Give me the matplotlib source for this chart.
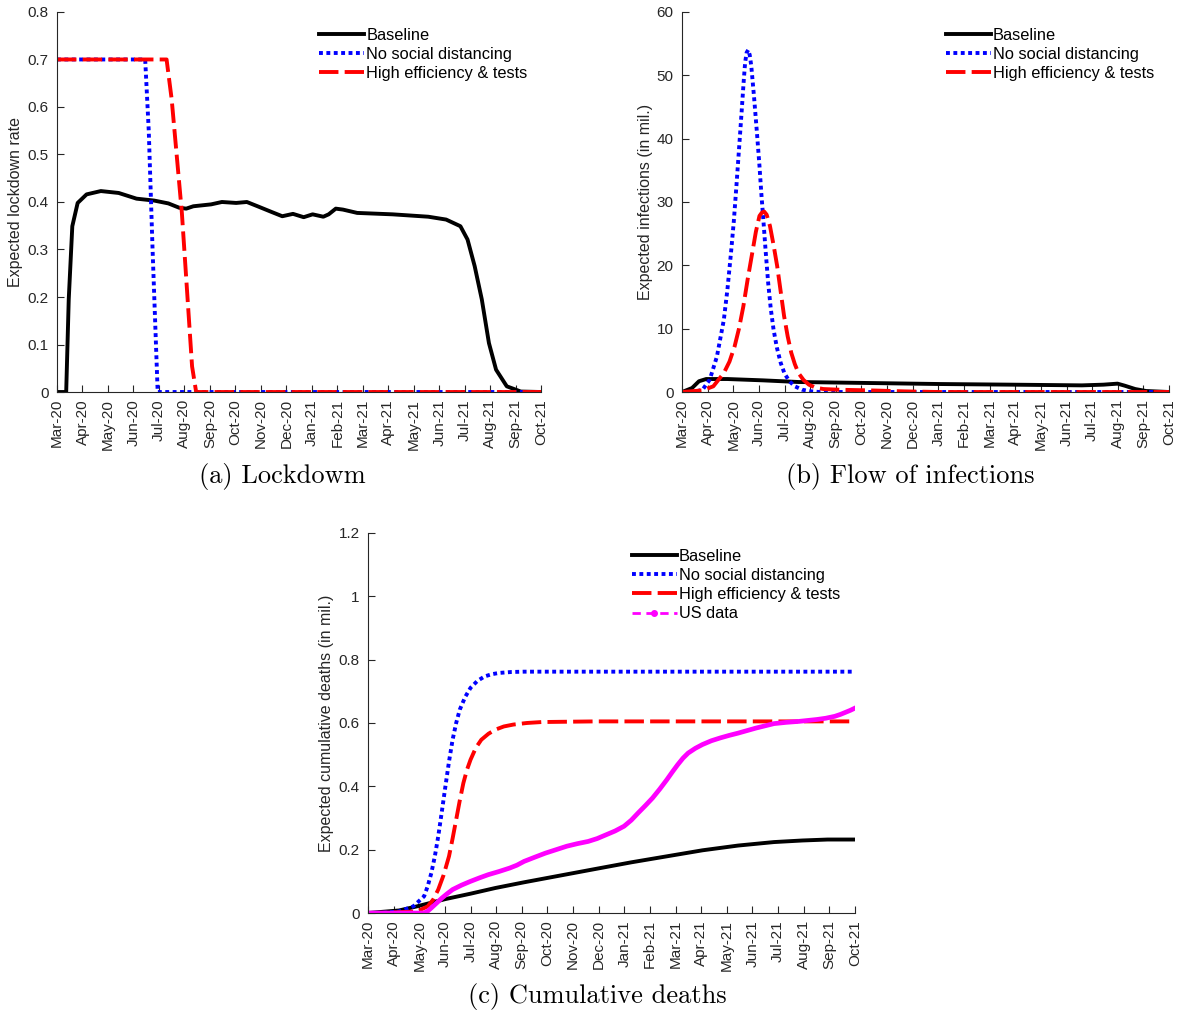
import matplotlib
matplotlib.use('Agg')
import matplotlib.pyplot as plt
from matplotlib.lines import Line2D
from matplotlib.ticker import FuncFormatter

plt.rcParams['font.family'] = ['Liberation Sans', 'DejaVu Sans']

months = ['Mar-20', 'Apr-20', 'May-20', 'Jun-20', 'Jul-20', 'Aug-20', 'Sep-20', 'Oct-20',
          'Nov-20', 'Dec-20', 'Jan-21', 'Feb-21', 'Mar-21', 'Apr-21', 'May-21', 'Jun-21',
          'Jul-21', 'Aug-21', 'Sep-21', 'Oct-21']

# (a) lockdown rate; x is months since Mar-20
lock_base_t = [0, 0.36, 0.46, 0.60, 0.81, 1.16, 1.72, 2.42, 3.12, 3.81, 4.37, 4.79, 5.07, 5.35,
               6.05, 6.47, 7.03, 7.45, 7.87, 8.42, 8.84, 9.26, 9.68, 10.03, 10.45, 10.66, 10.94,
               11.22, 11.78, 13.17, 14.57, 15.27, 15.83, 16.11, 16.39, 16.67, 16.95, 17.23,
               17.65, 18.20, 19]
lock_base = [0, 0, 0.195, 0.349, 0.398, 0.416, 0.423, 0.419, 0.407, 0.403, 0.397, 0.388, 0.386,
             0.391, 0.395, 0.400, 0.398, 0.400, 0.391, 0.379, 0.370, 0.375, 0.368, 0.374, 0.369,
             0.374, 0.386, 0.384, 0.377, 0.374, 0.369, 0.363, 0.349, 0.321, 0.265, 0.195, 0.103,
             0.047, 0.012, 0.001, 0]
lock_nosd_t = [0, 3.46, 3.60, 3.75, 3.95, 19]
lock_nosd = [0.7, 0.7, 0.55, 0.30, 0, 0]
lock_high_t = [0, 4.30, 4.50, 4.90, 5.30, 5.46, 19]
lock_high = [0.7, 0.7, 0.616, 0.377, 0.054, 0, 0]

# (b) flow of infections (mil.)
inf_base_t = [0, 0.39, 0.66, 0.94, 1.77, 3.16, 4.54, 7.31, 10.07, 12.84, 15.6, 16.44, 16.99,
              17.27, 17.68, 18.1, 19]
inf_base = [0, 0.63, 1.7, 2.05, 2.05, 1.84, 1.58, 1.42, 1.26, 1.16, 1.05, 1.16, 1.32, 1.0, 0.47,
            0.16, 0]
inf_nosd_t = [0, 0.5, 0.80, 1.08, 1.36, 1.63, 1.77, 1.91, 2.02, 2.12, 2.23, 2.33, 2.40, 2.46,
              2.52, 2.58, 2.64, 2.70, 2.81, 2.92, 3.02, 3.09, 3.16, 3.26, 3.36, 3.46, 3.57,
              3.70, 3.85, 4.0, 4.19, 4.40, 4.68, 5.0, 5.37, 19]
inf_nosd = [0, 0.05, 0.37, 1.95, 5.6, 11.4, 16.2, 22.0, 27.0, 32.5, 38.8, 44.6, 48.8, 52.0,
            53.6, 54.0, 53.2, 51.5, 46.5, 41.0, 35.7, 31.5, 27.8, 22.3, 17.2, 13.2, 9.85, 7.0,
            4.58, 2.9, 1.69, 0.9, 0.37, 0.12, 0, 0]
inf_high_t = [0, 0.80, 1.22, 1.63, 1.85, 2.05, 2.22, 2.39, 2.56, 2.74, 2.88, 3.02, 3.11, 3.20,
              3.30, 3.43, 3.57, 3.71, 3.85, 3.98, 4.12, 4.26, 4.40, 4.54, 4.74, 4.95, 5.20,
              5.51, 6.2, 7.3, 8.69, 10, 19]
inf_high = [0, 0.26, 0.9, 3.0, 4.8, 7.2, 10.0, 13.5, 17.8, 22.0, 25.3, 27.8, 28.3, 28.5, 28.0,
            26.2, 23.2, 19.9, 15.8, 12.0, 8.8, 6.2, 4.4, 3.0, 1.9, 1.16, 0.7, 0.47, 0.35, 0.26,
            0.1, 0, 0]

# (c) cumulative deaths (mil.)
dth_base_t = [0, 1.21, 1.91, 3.02, 4.0, 4.97, 6.09, 7.48, 8.87, 10.27, 11.66, 13.05, 14.44,
              15.84, 16.95, 17.93, 19]
dth_base = [0, 0.008, 0.021, 0.044, 0.061, 0.079, 0.097, 0.118, 0.139, 0.160, 0.179, 0.198,
            0.213, 0.224, 0.229, 0.232, 0.232]
dth_nosd_t = [0, 0.52, 1.21, 1.77, 2.19, 2.33, 2.47, 2.61, 2.74, 2.88, 3.02, 3.16, 3.30, 3.44,
              3.58, 3.79, 4.0, 4.27, 4.55, 4.83, 5.11, 5.6, 6.09, 19]
dth_nosd = [0, 0, 0.005, 0.021, 0.053, 0.085, 0.126, 0.180, 0.242, 0.320, 0.40, 0.478, 0.547,
            0.600, 0.642, 0.682, 0.711, 0.733, 0.747, 0.754, 0.758, 0.761, 0.762, 0.762]
dth_high_t = [0, 0.5, 1.91, 2.33, 2.54, 2.74, 2.95, 3.16, 3.30, 3.44, 3.58, 3.72, 3.86, 4.0,
              4.21, 4.42, 4.70, 4.97, 5.30, 5.67, 6.2, 6.78, 8.87, 19]
dth_high = [0, 0, 0.005, 0.021, 0.042, 0.074, 0.120, 0.179, 0.235, 0.295, 0.355, 0.41, 0.452,
            0.484, 0.522, 0.547, 0.566, 0.579, 0.589, 0.595, 0.600, 0.603, 0.605, 0.605]
us_t = [0, 2.19, 2.33, 2.47, 2.67, 2.88, 3.09, 3.30, 3.65, 4.0, 4.35, 4.69, 5.11, 5.53, 5.81,
        6.09, 6.50, 6.92, 7.34, 7.76, 8.17, 8.59, 8.94, 9.29, 9.64, 9.99, 10.27, 10.54, 10.82,
        11.10, 11.38, 11.66, 11.87, 12.08, 12.29, 12.49, 12.77, 13.05, 13.40, 13.75, 14.10,
        14.44, 14.79, 15.14, 15.49, 15.84, 16.32, 16.81, 17.16, 17.51, 17.86, 18.21, 18.43,
        18.64, 18.82, 19]
us_deaths = [0, 0, 0.006, 0.016, 0.031, 0.047, 0.061, 0.074, 0.088, 0.100, 0.111, 0.121, 0.131,
             0.142, 0.151, 0.163, 0.176, 0.189, 0.200, 0.211, 0.219, 0.226, 0.235, 0.247, 0.259,
             0.274, 0.293, 0.316, 0.339, 0.363, 0.391, 0.421, 0.445, 0.468, 0.489, 0.505, 0.520,
             0.532, 0.544, 0.553, 0.561, 0.568, 0.576, 0.584, 0.591, 0.598, 0.602, 0.605, 0.608,
             0.611, 0.615, 0.621, 0.627, 0.634, 0.640, 0.647]

labels = ['Baseline', 'No social distancing', 'High efficiency & tests']
gray = '#262626'

fig = plt.figure(figsize=(11.78, 10.14), dpi=100)


def setup(ax, ymax, ystep, ylabel):
    ax.set_xlim(0, 19)
    ax.set_ylim(0, ymax)
    ax.set_xticks(range(20))
    ax.set_xticklabels(months, rotation=90, color=gray)
    n = int(round(ymax / ystep))
    ax.set_yticks([i * ystep for i in range(n + 1)])
    ax.yaxis.set_major_formatter(FuncFormatter(lambda v, p: '%g' % round(v, 6)))
    ax.tick_params(direction='in', length=5, width=0.8, colors=gray, labelsize=11)
    ax.tick_params(axis='x', pad=5)
    ax.tick_params(axis='y', pad=6)
    for s in ['top', 'right']:
        ax.spines[s].set_visible(False)
    for s in ['left', 'bottom']:
        ax.spines[s].set_color(gray)
        ax.spines[s].set_linewidth(0.8)
    ax.set_ylabel(ylabel, fontsize=11.5, color=gray, labelpad=3)


def legend(ax, handles=None):
    kw = dict(loc='upper left', bbox_to_anchor=(0.528, 0.975), frameon=False, fontsize=11.8,
              handlelength=2.75, handletextpad=0.12, labelspacing=0.25, borderaxespad=0)
    if handles is None:
        ax.legend(**kw)
    else:
        ax.legend(handles=handles, **kw)


def scenarios(ax, t0, y0, t1, y1, t2, y2):
    ax.plot(t0, y0, color='black', lw=2.8, label=labels[0])
    ax.plot(t1, y1, color='#0000ff', lw=2.8, linestyle=(0, (1.0, 0.9)), label=labels[1])
    ax.plot(t2, y2, color='#ff0000', lw=2.8, linestyle=(0, (5.0, 1.6)), label=labels[2])


# (a)
ax1 = fig.add_axes([0.0484, 0.6134, 0.411, 0.3748])
scenarios(ax1, lock_base_t, lock_base, lock_nosd_t, lock_nosd, lock_high_t, lock_high)
setup(ax1, 0.8, 0.1, 'Expected lockdown rate')
legend(ax1)
fig.text(0.2398, 0.5296, '(a) Lockdowm', ha='center', va='center', fontsize=19, family='cmr10')

# (b)
ax2 = fig.add_axes([0.579, 0.6134, 0.4134, 0.3748])
scenarios(ax2, inf_base_t, inf_base, inf_nosd_t, inf_nosd, inf_high_t, inf_high)
setup(ax2, 60, 10, 'Expected infections (in mil.)')
legend(ax2)
fig.text(0.7724, 0.5296, '(b) Flow of infections', ha='center', va='center', fontsize=19,
         family='cmr10')

# (c)
ax3 = fig.add_axes([0.3124, 0.0996, 0.4134, 0.3748])
scenarios(ax3, dth_base_t, dth_base, dth_nosd_t, dth_nosd, dth_high_t, dth_high)
ax3.plot(us_t, us_deaths, color='#ff00ff', lw=3.4)
setup(ax3, 1.2, 0.2, 'Expected cumulative deaths (in mil.)')
h, l = ax3.get_legend_handles_labels()
h.append(Line2D([], [], color='#ff00ff', lw=2, linestyle=(0, (3, 2)), marker='.',
                markersize=8, label='US data'))
legend(ax3, h)
fig.text(0.507, 0.0168, '(c) Cumulative deaths', ha='center', va='center', fontsize=19,
         family='cmr10')

fig.savefig('out.png', dpi=100)
